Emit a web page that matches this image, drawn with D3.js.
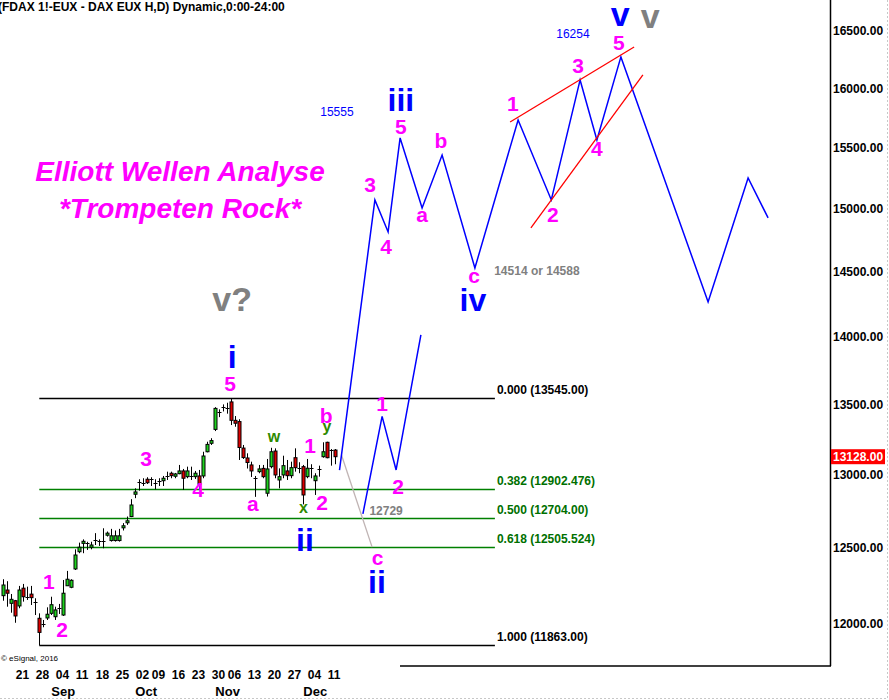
<!DOCTYPE html>
<html><head><meta charset="utf-8">
<script src="https://cdn.jsdelivr.net/npm/d3@7"></script>
<style>
html,body{margin:0;padding:0;background:#fff;}
svg{display:block;font-family:"Liberation Sans",Arial,sans-serif;}
</style></head>
<body><svg id="chart" width="889" height="700"></svg>
<script>
// ---------------- data ----------------
const dates = ["2017-08-16","2017-08-17","2017-08-18","2017-08-21","2017-08-22","2017-08-23","2017-08-24","2017-08-25",
"2017-08-28","2017-08-29","2017-08-30","2017-08-31","2017-09-01","2017-09-04","2017-09-05","2017-09-06","2017-09-07","2017-09-08",
"2017-09-11","2017-09-12","2017-09-13","2017-09-14","2017-09-15","2017-09-18","2017-09-19","2017-09-20","2017-09-21","2017-09-22",
"2017-09-25","2017-09-26","2017-09-27","2017-09-28","2017-09-29","2017-10-02","2017-10-04","2017-10-05","2017-10-06",
"2017-10-09","2017-10-10","2017-10-11","2017-10-12","2017-10-13","2017-10-16","2017-10-17","2017-10-18","2017-10-19","2017-10-20",
"2017-10-23","2017-10-24","2017-10-25","2017-10-26","2017-10-27","2017-10-30","2017-11-01","2017-11-02","2017-11-03",
"2017-11-06","2017-11-07","2017-11-08","2017-11-09","2017-11-10","2017-11-13","2017-11-14","2017-11-15","2017-11-16","2017-11-17",
"2017-11-20","2017-11-21","2017-11-22","2017-11-23","2017-11-24","2017-11-27","2017-11-28","2017-11-29","2017-11-30","2017-12-01",
"2017-12-04","2017-12-05","2017-12-06","2017-12-07","2017-12-08","2017-12-11","2017-12-12","2017-12-13"];
const open  = [12184,12221,12134,12151,12117,12233,12175,12194,12140,12037,12000,12039,12069,12047,12102,12058,12249,12239,
12360,12475,12531,12531,12505,12554,12550,12550,12586,12550,12550,12550,12636,12675,12713,12866,12953,12946,12970,
12972,12946,12960,12960,12995,13012,12991,13009,13028,12988,12993,12988,12993,12993,13163,13223,13322,13444,13484,
13473,13520,13387,13378,13189,13119,13070,12979,13023,13046,12873,13058,13168,12965,13000,13028,12995,13121,13047,13058,
12988,13047,12960,13042,13128,13230,13175,13175];
const high  = [12292,12279,12195,12156,12248,12261,12243,12248,12167,12069,12026,12108,12177,12112,12130,12287,12347,12292,
12491,12536,12558,12542,12542,12600,12558,12633,12611,12629,12618,12629,12668,12713,12832,12907,12970,12977,12984,
12984,12970,12977,12993,13023,13023,13014,13070,13042,13058,13058,13028,13035,13163,13234,13259,13482,13466,13502,
13514,13545,13418,13395,13211,13152,13093,12993,13070,13070,13112,13191,13187,13046,13135,13105,13093,13187,13089,13070,
13112,13075,13012,13065,13230,13234,13182,13182];
const low   = [12151,12112,12073,12008,12102,12145,12156,12123,12058,11863,11979,12026,12058,12026,12065,12052,12249,12233,
12353,12465,12465,12487,12491,12520,12514,12498,12577,12543,12543,12543,12618,12656,12709,12839,12891,12923,12937,
12923,12900,12923,12923,12965,12977,12977,13005,12896,12977,12965,12972,12896,12977,13159,13211,13310,13410,13451,
13435,13353,13341,13105,13112,13045,12986,12848,13012,12977,12850,13046,12977,12907,12977,12965,12977,13023,13012,12796,
12977,12977,12861,12988,13121,13117,13065,13075];
const close = [12254,12200,12160,12052,12221,12177,12175,12171,12140,11946,12000,12063,12125,12091,12102,12200,12292,12285,
12453,12505,12545,12531,12520,12554,12550,12550,12600,12582,12582,12582,12650,12684,12792,12882,12953,12946,12946,
12972,12946,12960,12977,12995,12995,13007,13028,12977,13028,12993,13012,12935,13133,13215,13242,13473,13444,13484,
13473,13387,13366,13193,13122,13087,13028,12979,13042,12988,13042,13163,13000,12988,13065,12995,13051,13051,13047,12861,
13047,13047,12993,13042,13163,13121,13175,13128];

const priceTicks = [12000,12500,13000,13500,14000,14500,15000,15500,16000,16500];
const lastPrice = 13128;
const monthNames = ["Sep","Oct","Nov","Dec"];

// Fibonacci retracement
const fibRatios = ["0.000","0.382","0.500","0.618","1.000"];
const fibPrices = [13545, 12902.476, 12704, 12505.524, 11863];
const fibStartIdx = 9, fibEndIdx = 122.9;

// projected wave paths (bar index, price)
const projMainIdx   = [84.05, 92.9, 96.2, 99.2, 104.7, 109.7, 117.9, 128.7, 137.0, 144.2, 148.4, 154.4, 176.2, 186.2, 191.2];
const projMainPrice = [13034, 15069, 14812, 15579, 15004, 15437, 14528, 15730, 15069, 16072, 15562, 16272, 14265, 15248, 14924];
const projAltIdx    = [89.9, 94.7, 98.2, 104.4];
const projAltPrice  = [12731, 13415, 13035, 14015];
const grayIdx       = [84.55, 92.2];
const grayPrice     = [13140, 12505.5];
const red1Idx = [126.7, 157.7], red1Price = [15713, 16359];
const red2Idx = [131.9, 159.9], red2Price = [14844, 16115];

// wave labels: text, bar index, price (baseline), style
const waveText  = ["1","2","3","4","5","a","1","2","b","1","2","c","3","4","5","a","b","c","1","2","3","4","5",
  "w","x","y","i","ii","ii","iii","iv","v","v","v?","15555","16254","12729","14514 or 14588"];
const waveIdx   = [11.4,14.7,35.7,48.7,56.7,62.4,76.7,79.7,80.7,94.7,98.7,93.55,91.7,95.7,99.4,104.7,109.4,117.7,127.4,137.4,143.7,148.4,153.9,
  67.7,75.05,80.9,57.2,75.4,93.4,99.4,117.4,154.2,161.7,57.2,83.4,142.4,95.7,133.4];
const wavePrice = [12228,11917,13063,12847,13600,12751,13156,12758,13368,13456,12868,12386,15133,14638,15612,14892,15495,14412,15806,14892,16132,15429,16333,
  13232,12737,13303,13769,12480,12201,15806,14197,16545,16527,14197,15764,16438,12723,14474];
const waveStyle = ["m","m","m","m","m","m","m","m","m","m","m","m","m","m","m","m","m","m","m","m","m","m","m",
  "g","g","g","B","B","B","B","B","V","GV","GV","sb","sb","sg","sg"];

// ---------------- drawing ----------------
const styles = {
  m:  {fill:"#ff00ff", size:21, weight:"bold"},
  g:  {fill:"#2f8a00", size:16, weight:"bold"},
  B:  {fill:"#0000ff", size:32, weight:"bold"},
  V:  {fill:"#0000ff", size:34, weight:"bold"},
  GV: {fill:"#808080", size:34, weight:"bold"},
  sb: {fill:"#0000ff", size:12, weight:"normal"},
  sg: {fill:"#808080", size:12, weight:"bold"}
};

const svg = d3.select("#chart");
const x = d3.scaleLinear().domain([0, dates.length - 1]).range([3.3, 335.3]);
const y = d3.scaleLog().domain([12000, 16500]).range([624, 31]);
const parse = d3.timeParse("%Y-%m-%d");
const dd = dates.map(parse);

// borders
svg.append("line").attr("x1", 887.5).attr("x2", 887.5).attr("y1", 0).attr("y2", 699)
  .attr("stroke", "#c8c8c8").attr("stroke-dasharray", "2,2");
svg.append("line").attr("x1", 0).attr("x2", 888).attr("y1", 698.5).attr("y2", 698.5)
  .attr("stroke", "#c8c8c8").attr("stroke-dasharray", "2,2");

// right axis frame
svg.append("line").attr("x1", 830.5).attr("x2", 830.5).attr("y1", 0).attr("y2", 666)
  .attr("stroke", "#000").attr("stroke-width", 1.5);
svg.append("line").attr("x1", 400).attr("x2", 831).attr("y1", 666).attr("y2", 666)
  .attr("stroke", "#000").attr("stroke-width", 1.5);

// price axis
const yAxis = d3.axisRight(y).tickValues(priceTicks).tickFormat(d3.format(".2f")).tickSize(0).tickPadding(3);
const ga = svg.append("g").attr("transform", "translate(830,0)").call(yAxis);
ga.select(".domain").remove();
ga.selectAll("text").attr("font-size", 12).attr("font-weight", "bold").attr("fill", "#000")
  .attr("font-family", "Liberation Sans, Arial, sans-serif");

// last price box
svg.append("rect").attr("x", 831).attr("y", y(lastPrice) - 7.5).attr("width", 54).attr("height", 15).attr("fill", "#ff0000");
svg.append("text").attr("x", 833).attr("y", y(lastPrice) + 4.5).attr("font-size", 12).attr("font-weight", "bold")
  .attr("fill", "#fff").text(d3.format(".2f")(lastPrice));

// fib lines
fibPrices.forEach((p, k) => {
  const col = (k === 0 || k === fibPrices.length - 1) ? "#000" : "#008000";
  svg.append("line").attr("x1", x(fibStartIdx)).attr("x2", x(fibEndIdx))
    .attr("y1", Math.round(y(p)) + 0.5).attr("y2", Math.round(y(p)) + 0.5)
    .attr("stroke", col).attr("stroke-width", 1.3);
  const lbl = fibRatios[k] + " (" + (Number.isInteger(p) ? p.toFixed(2) : String(p)) + ")";
  svg.append("text").attr("x", x(fibEndIdx) + 2).attr("y", y(p) - 4)
    .attr("font-size", 12).attr("font-weight", "bold").attr("fill", col === "#000" ? "#000" : "#007000").text(lbl);
});

// candles
const gC = svg.append("g");
dates.forEach((d, i) => {
  const cx = Math.round(x(i)) + 0.5;
  gC.append("line").attr("x1", cx).attr("x2", cx).attr("y1", y(high[i])).attr("y2", y(low[i]))
    .attr("stroke", "#000").attr("stroke-width", 1);
  if (open[i] === close[i]) {
    gC.append("line").attr("x1", cx - 2).attr("x2", cx + 2)
      .attr("y1", Math.round(y(open[i])) + 0.5).attr("y2", Math.round(y(open[i])) + 0.5)
      .attr("stroke", "#000").attr("stroke-width", 1);
  } else {
    const top = y(Math.max(open[i], close[i])), bot = y(Math.min(open[i], close[i]));
    gC.append("rect").attr("x", cx - 1.5).attr("y", top).attr("width", 3).attr("height", Math.max(2, bot - top))
      .attr("fill", close[i] > open[i] ? "#1fd21f" : "#dd0000").attr("stroke", "#000").attr("stroke-width", 1);
  }
});

// projection lines
const ln = (ix, pr) => d3.line()(ix.map((v, k) => [x(v), y(pr[k])]));
svg.append("path").attr("d", ln(grayIdx, grayPrice)).attr("fill", "none").attr("stroke", "#c0b4b4").attr("stroke-width", 1.3);
svg.append("path").attr("d", ln(projMainIdx, projMainPrice)).attr("fill", "none").attr("stroke", "#0000ff").attr("stroke-width", 1.5);
svg.append("path").attr("d", ln(projAltIdx, projAltPrice)).attr("fill", "none").attr("stroke", "#0000ff").attr("stroke-width", 1.5);
svg.append("path").attr("d", ln(red1Idx, red1Price)).attr("fill", "none").attr("stroke", "#ff0000").attr("stroke-width", 1.3);
svg.append("path").attr("d", ln(red2Idx, red2Price)).attr("fill", "none").attr("stroke", "#ff0000").attr("stroke-width", 1.3);

// wave labels
waveText.forEach((t, k) => {
  const s = styles[waveStyle[k]];
  svg.append("text").attr("x", x(waveIdx[k])).attr("y", y(wavePrice[k])).attr("text-anchor", "middle")
    .attr("font-size", s.size).attr("font-weight", s.weight).attr("fill", s.fill).text(t);
});

// title texts
svg.append("text").attr("x", -2).attr("y", 11).attr("font-size", 12).attr("font-weight", "bold").attr("fill", "#000")
  .text("(FDAX 1!-EUX - DAX EUX H,D) Dynamic,0:00-24:00");
svg.append("text").attr("x", 180).attr("y", 181).attr("text-anchor", "middle").attr("font-size", 28)
  .attr("font-weight", "bold").attr("font-style", "italic").attr("fill", "#ff00ff").text("Elliott Wellen Analyse");
svg.append("text").attr("x", 180).attr("y", 218).attr("text-anchor", "middle").attr("font-size", 28)
  .attr("font-weight", "bold").attr("font-style", "italic").attr("fill", "#ff00ff").text("*Trompeten Rock*");
svg.append("text").attr("x", 1).attr("y", 661).attr("font-size", 8).attr("fill", "#000").text("\u00A9 eSignal, 2016");

// date axis labels (Mondays) and month labels
dd.forEach((d, i) => {
  if (d.getDay() === 1) {
    svg.append("text").attr("x", x(i) + 0.5).attr("y", 679).attr("font-size", 12).attr("font-weight", "bold")
      .attr("fill", "#000").text(d3.timeFormat("%d")(d));
  }
});
monthNames.forEach(m => {
  const i = dd.findIndex(d => d3.timeFormat("%b")(d) === m);
  svg.append("text").attr("x", x(i)).attr("y", 696).attr("font-size", 13).attr("font-weight", "bold")
    .attr("fill", "#000").text(m);
});
</script></body></html>
